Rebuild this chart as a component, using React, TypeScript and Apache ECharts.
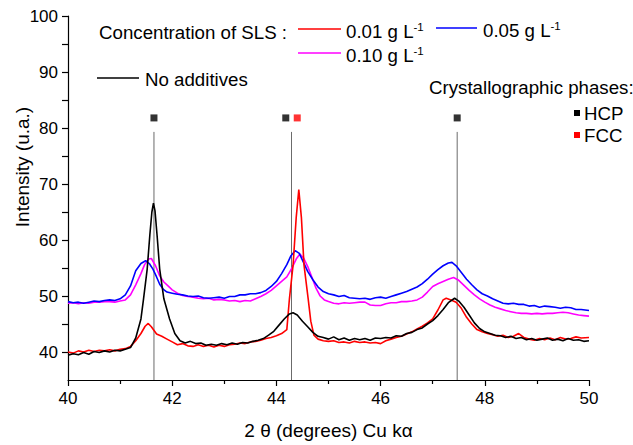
import React, { useEffect, useRef } from "react";
import * as echarts from "echarts";

// ---- Data (2θ in degrees, intensity in a.u.) ----
const noAddX = [40.0, 40.1, 40.2, 40.3, 40.4, 40.5, 40.6, 40.7, 40.8, 40.9, 41.0, 41.1, 41.2, 41.3, 41.4, 41.45, 41.52, 41.57, 41.61, 41.64, 41.67, 41.71, 41.76, 41.84, 41.95, 42.05, 42.15, 42.25, 42.35, 42.45, 42.55, 42.65, 42.75, 42.85, 42.95, 43.05, 43.15, 43.25, 43.35, 43.45, 43.55, 43.65, 43.75, 43.85, 43.95, 44.05, 44.15, 44.25, 44.32, 44.4, 44.5, 44.6, 44.7, 44.8, 44.9, 45.0, 45.1, 45.2, 45.3, 45.4, 45.5, 45.6, 45.7, 45.8, 45.9, 46.0, 46.1, 46.2, 46.3, 46.4, 46.5, 46.6, 46.7, 46.8, 46.9, 47.0, 47.1, 47.2, 47.3, 47.42, 47.5, 47.6, 47.7, 47.8, 47.9, 48.0, 48.1, 48.2, 48.3, 48.4, 48.5, 48.6, 48.7, 48.8, 48.9, 49.0, 49.1, 49.2, 49.3, 49.4, 49.5, 49.6, 49.7, 49.8, 49.9, 50.0];
const noAddY = [39.4, 39.7, 39.5, 39.9, 39.6, 40.1, 39.9, 40.2, 40.0, 40.3, 40.2, 40.5, 40.8, 42.5, 45.9, 49.5, 54.8, 60.8, 65.0, 66.6, 65.2, 60.8, 54.8, 49.5, 45.9, 43.3, 42.0, 41.6, 41.9, 41.5, 41.6, 41.2, 41.4, 41.2, 41.5, 41.3, 41.6, 41.4, 41.7, 41.6, 41.9, 42.1, 42.4, 43.0, 43.7, 44.8, 45.9, 46.8, 47.0, 46.6, 45.5, 44.5, 43.5, 42.8, 42.6, 42.3, 42.7, 42.2, 42.5, 42.1, 42.4, 42.2, 42.4, 42.1, 42.5, 42.4, 42.6, 42.5, 42.9, 42.8, 43.3, 43.5, 44.0, 44.3, 45.0, 45.6, 46.5, 47.6, 48.8, 49.6, 49.1, 48.0, 46.6, 45.2, 44.2, 43.6, 43.3, 43.0, 42.9, 42.6, 42.8, 42.4, 42.6, 42.2, 42.4, 42.1, 42.3, 42.5, 42.1, 42.3, 42.0, 42.4, 42.1, 42.2, 41.9, 42.0];

const sls001X = [40.0, 40.1, 40.2, 40.3, 40.4, 40.5, 40.6, 40.7, 40.8, 40.9, 41.0, 41.1, 41.2, 41.3, 41.4, 41.48, 41.54, 41.6, 41.7, 41.8, 41.9, 42.0, 42.1, 42.2, 42.3, 42.4, 42.5, 42.6, 42.7, 42.8, 42.9, 43.0, 43.1, 43.2, 43.3, 43.4, 43.5, 43.6, 43.7, 43.8, 43.9, 44.0, 44.1, 44.2, 44.25, 44.32, 44.38, 44.43, 44.48, 44.53, 44.61, 44.66, 44.72, 44.8, 44.9, 45.0, 45.1, 45.2, 45.3, 45.4, 45.5, 45.6, 45.7, 45.8, 45.9, 46.0, 46.1, 46.2, 46.3, 46.4, 46.5, 46.6, 46.7, 46.8, 46.9, 47.0, 47.1, 47.2, 47.26, 47.35, 47.45, 47.55, 47.65, 47.75, 47.85, 47.95, 48.05, 48.15, 48.25, 48.35, 48.45, 48.55, 48.65, 48.75, 48.85, 48.95, 49.05, 49.15, 49.25, 49.35, 49.45, 49.55, 49.65, 49.75, 49.85, 50.0];
const sls001Y = [40.0, 39.8, 40.2, 40.0, 40.3, 40.1, 40.3, 40.2, 40.4, 40.2, 40.5, 40.6, 41.0, 42.0, 43.3, 44.6, 45.1, 44.5, 43.2, 42.8, 42.3, 41.8, 41.3, 41.5, 41.1, 41.0, 41.3, 41.0, 41.2, 40.9, 41.2, 41.0, 41.3, 41.4, 41.6, 41.5, 41.8, 41.9, 42.1, 42.4, 42.6, 42.9, 43.3, 44.0, 49.5, 55.5, 64.0, 69.0, 64.0, 55.5, 49.5, 45.5, 43.0, 42.3, 42.0, 41.9, 42.0, 41.7, 41.8, 41.6, 41.9, 41.7, 41.8, 41.6, 41.7, 41.5, 42.0, 42.3, 42.6, 42.8, 43.2, 43.6, 44.1, 44.6, 45.2, 45.9, 47.5, 49.3, 49.6, 49.3, 48.9, 47.8, 46.2, 45.0, 44.0, 43.6, 43.3, 43.1, 42.8, 43.0, 42.6, 42.8, 43.3, 42.6, 42.3, 42.1, 42.4, 42.2, 42.5, 42.2, 42.6, 42.3, 42.4, 42.7, 42.5, 42.6];

const sls005X = [40.0, 40.1, 40.2, 40.3, 40.4, 40.5, 40.6, 40.7, 40.8, 40.9, 41.0, 41.1, 41.2, 41.3, 41.4, 41.49, 41.56, 41.63, 41.7, 41.76, 41.83, 41.9, 42.0, 42.1, 42.2, 42.3, 42.4, 42.5, 42.6, 42.7, 42.8, 42.9, 43.0, 43.1, 43.2, 43.3, 43.4, 43.5, 43.6, 43.7, 43.8, 43.9, 44.0, 44.1, 44.2, 44.28, 44.36, 44.44, 44.52, 44.6, 44.7, 44.8, 44.9, 45.0, 45.1, 45.2, 45.3, 45.4, 45.5, 45.6, 45.7, 45.8, 45.9, 46.0, 46.1, 46.2, 46.3, 46.4, 46.5, 46.6, 46.7, 46.8, 46.9, 47.0, 47.1, 47.2, 47.3, 47.37, 47.45, 47.55, 47.65, 47.75, 47.85, 47.95, 48.05, 48.15, 48.25, 48.35, 48.45, 48.55, 48.65, 48.75, 48.85, 48.95, 49.05, 49.15, 49.25, 49.35, 49.45, 49.55, 49.65, 49.75, 49.85, 50.0];
const sls005Y = [49.0, 48.8, 48.9, 48.7, 48.9, 49.1, 49.0, 49.2, 49.3, 49.2, 49.5, 50.2, 51.8, 54.5, 55.8, 56.3, 55.8, 54.8, 53.4, 52.1, 51.2, 50.7, 50.5, 50.3, 50.2, 50.0, 49.9, 50.0, 49.7, 49.6, 49.7, 49.8, 49.6, 49.9, 49.9, 50.2, 50.2, 50.4, 50.4, 50.6, 51.0, 51.7, 52.6, 54.0, 55.6, 57.2, 58.1, 57.6, 56.0, 54.4, 52.9, 51.6, 50.8, 50.4, 50.2, 49.9, 50.1, 49.7, 49.6, 49.5, 49.6, 49.4, 49.7, 49.8, 49.6, 49.9, 50.2, 50.5, 50.8, 51.2, 51.6, 52.2, 53.0, 53.9, 54.7, 55.4, 55.9, 56.0, 55.4, 54.2, 53.0, 52.0, 51.1, 50.4, 50.0, 49.5, 49.1, 48.7, 48.6, 48.7, 48.5, 48.5, 48.2, 48.3, 48.0, 48.2, 48.1, 48.0, 47.8, 48.0, 47.9, 47.6, 47.6, 47.4];

const sls010X = [40.0, 40.1, 40.2, 40.3, 40.4, 40.5, 40.6, 40.7, 40.8, 40.9, 41.0, 41.1, 41.2, 41.3, 41.4, 41.47, 41.55, 41.6, 41.68, 41.76, 41.84, 41.92, 42.0, 42.1, 42.2, 42.3, 42.4, 42.5, 42.6, 42.7, 42.8, 42.9, 43.0, 43.1, 43.2, 43.3, 43.4, 43.5, 43.6, 43.7, 43.8, 43.9, 44.0, 44.1, 44.2, 44.3, 44.38, 44.45, 44.52, 44.6, 44.68, 44.76, 44.84, 44.92, 45.0, 45.1, 45.2, 45.3, 45.4, 45.5, 45.6, 45.7, 45.8, 45.9, 46.0, 46.1, 46.2, 46.3, 46.4, 46.5, 46.6, 46.7, 46.8, 46.9, 47.0, 47.1, 47.2, 47.3, 47.4, 47.5, 47.6, 47.7, 47.8, 47.9, 48.0, 48.1, 48.2, 48.3, 48.4, 48.5, 48.6, 48.7, 48.8, 48.9, 49.0, 49.1, 49.2, 49.3, 49.4, 49.5, 49.6, 49.7, 49.8, 49.9, 50.0];
const sls010Y = [48.7, 48.8, 48.6, 48.8, 48.7, 48.9, 48.9, 49.0, 49.0, 48.9, 49.1, 49.3, 50.2, 52.0, 54.0, 55.6, 56.6, 56.7, 55.4, 53.6, 52.5, 51.8, 51.1, 50.5, 50.1, 49.9, 49.8, 49.6, 49.5, 49.6, 49.3, 49.4, 49.3, 49.1, 49.2, 49.0, 49.2, 49.1, 49.5, 49.9, 50.4, 51.0, 51.8, 52.6, 53.4, 55.0, 56.6, 57.5, 56.8, 55.3, 53.4, 51.4, 50.0, 49.3, 49.0, 48.7, 48.6, 48.8, 48.7, 48.8, 48.9, 48.9, 48.4, 48.3, 48.3, 48.6, 48.8, 48.8, 49.0, 49.0, 49.1, 49.3, 49.8, 50.7, 51.7, 52.2, 52.6, 53.0, 53.3, 52.8, 51.9, 51.0, 50.2, 49.5, 48.9, 48.4, 48.0, 47.7, 47.4, 47.2, 47.0, 46.9, 46.9, 46.8, 46.9, 46.8, 46.9, 46.9, 47.0, 47.1, 47.0, 46.8, 46.6, 46.5, 46.4];

// Crystallographic phase reference positions
const hcpLineX = [41.65, 44.29, 47.47];
const phaseLineTop = 79.3;
const hcpMarkerX = [41.65, 44.18, 47.47];
const fccMarkerX = [44.4];
const phaseMarkerY = 81.8;

const yTickValues = [40, 45, 50, 55, 60, 65, 70, 75, 80, 85, 90, 95, 100];

const FONT = "Arial, 'Liberation Sans', sans-serif";
const LEG_FS = 18.7;

const zip = (xs: number[], ys: number[]) => xs.map((x, i) => [x, ys[i]]);

export default function App() {
  const ref = useRef<HTMLDivElement>(null);

  useEffect(() => {
    const chart = echarts.init(ref.current!, null, { renderer: "svg" });

    const lineSeries = (name: string, xs: number[], ys: number[], color: string, z: number) => ({
      name,
      type: "line",
      data: zip(xs, ys),
      showSymbol: false,
      symbol: "none",
      smooth: false,
      lineStyle: { color, width: 1.6 },
      z,
    });

    const phaseLines = hcpLineX.map((x) => ({
      type: "line",
      data: [
        [x, 35],
        [x, phaseLineTop],
      ],
      symbol: "none",
      lineStyle: { color: "#6b6b6b", width: 1 },
      silent: true,
      z: 1,
    }));

    const legendText = (x: number, y: number, main: string, sup?: string) => ({
      type: "text",
      x,
      y,
      style: {
        text: sup ? `{a|${main}}{b|${sup}}` : `{a|${main}}`,
        rich: {
          a: { fontSize: LEG_FS, fontFamily: FONT, fill: "#000", lineHeight: 21 },
          b: { fontSize: 11.5, fontFamily: FONT, fill: "#000", verticalAlign: "top", lineHeight: 21 },
        },
        verticalAlign: "middle",
        align: "left",
      },
    });

    const legLine = (x1: number, x2: number, y: number, color: string) => ({
      type: "line",
      shape: { x1, y1: y, x2, y2: y },
      style: { stroke: color, lineWidth: 1.6 },
    });

    chart.setOption({
      animation: false,
      backgroundColor: "#fff",
      grid: { left: 68, right: 44, top: 16, bottom: 64, containLabel: false },
      xAxis: {
        type: "value",
        min: 40,
        max: 50,
        interval: 2,
        name: "2 θ (degrees) Cu kα",
        nameLocation: "middle",
        nameGap: 41,
        nameTextStyle: { fontSize: 19, fontFamily: FONT, color: "#000" },
        axisLine: { show: true, lineStyle: { color: "#000", width: 1.2 } },
        axisTick: { show: true, inside: false, length: 6, lineStyle: { color: "#000", width: 1.2 } },
        minorTick: { show: true, splitNumber: 2, length: 4, lineStyle: { color: "#000", width: 1.2 } },
        axisLabel: { fontSize: 17, fontFamily: FONT, color: "#000", margin: 10 },
        splitLine: { show: false },
      },
      yAxis: {
        type: "value",
        min: 35,
        max: 100,
        interval: 5,
        axisLine: { show: true, lineStyle: { color: "#000", width: 1.2 } },
        axisTick: { show: true, inside: false, length: 6, customValues: yTickValues, lineStyle: { color: "#000", width: 1.2 } },
        axisLabel: {
          fontSize: 17,
          fontFamily: FONT,
          color: "#000",
          margin: 10,
          formatter: (v: number) => (v % 10 === 0 ? String(v) : ""),
        },
        splitLine: { show: false },
      },
      series: [
        ...phaseLines,
        lineSeries("0.10 g L-1", sls010X, sls010Y, "#ff00ff", 2),
        lineSeries("0.05 g L-1", sls005X, sls005Y, "#0000ff", 3),
        lineSeries("0.01 g L-1", sls001X, sls001Y, "#ff0000", 4),
        lineSeries("No additives", noAddX, noAddY, "#000000", 5),
        {
          type: "scatter",
          data: hcpMarkerX.map((x) => [x, phaseMarkerY]),
          symbol: "rect",
          symbolSize: 7,
          itemStyle: { color: "#000" },
          silent: true,
          z: 6,
        },
        {
          type: "scatter",
          data: fccMarkerX.map((x) => [x, phaseMarkerY]),
          symbol: "rect",
          symbolSize: 7,
          itemStyle: { color: "#ff0000" },
          silent: true,
          z: 6,
        },
      ],
      graphic: [
        {
          type: "text",
          x: 22,
          y: 167,
          rotation: Math.PI / 2,
          style: {
            text: "Intensity (u.a.)",
            fontSize: 19,
            fontFamily: FONT,
            fill: "#000",
            align: "center",
            verticalAlign: "middle",
          },
        },
        {
          type: "text",
          x: 99,
          y: 32,
          style: { text: "Concentration of SLS :", fontSize: LEG_FS, fontFamily: FONT, fill: "#000", verticalAlign: "middle" },
        },
        legLine(298, 341, 29, "#ff0000"),
        legendText(346, 31, "0.01 g L", "-1"),
        legLine(436, 477, 28, "#0000ff"),
        legendText(483, 30, "0.05 g L", "-1"),
        legLine(298, 341, 53, "#ff00ff"),
        legendText(346, 55, "0.10 g L", "-1"),
        legLine(97, 139, 78, "#000000"),
        legendText(145, 79, "No additives"),
        {
          type: "text",
          x: 429,
          y: 87,
          style: { text: "Crystallographic phases:", fontSize: LEG_FS, fontFamily: FONT, fill: "#000", verticalAlign: "middle" },
        },
        { type: "rect", shape: { x: 574, y: 110, width: 6, height: 6 }, style: { fill: "#000" } },
        {
          type: "text",
          x: 584,
          y: 113,
          style: { text: "HCP", fontSize: LEG_FS, fontFamily: FONT, fill: "#000", verticalAlign: "middle" },
        },
        { type: "rect", shape: { x: 574, y: 132, width: 6, height: 6 }, style: { fill: "#ff0000" } },
        {
          type: "text",
          x: 584,
          y: 135,
          style: { text: "FCC", fontSize: LEG_FS, fontFamily: FONT, fill: "#000", verticalAlign: "middle" },
        },
      ],
    });

    return () => chart.dispose();
  }, []);

  return (
    <div
      ref={ref}
      style={{ position: "fixed", left: 0, top: 0, width: 633, height: 445, background: "#fff" }}
    />
  );
}
